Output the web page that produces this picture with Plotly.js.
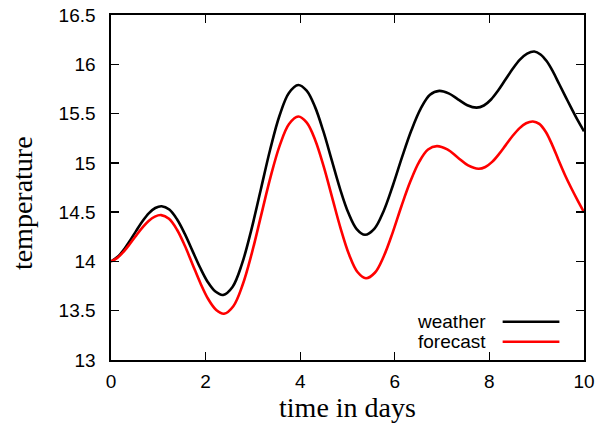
<!DOCTYPE html>
<html>
<head>
<meta charset="utf-8">
<script src="https://cdn.plot.ly/plotly-3.0.1.min.js"></script>
<style>html,body{margin:0;padding:0;background:#fff;}#chart{width:599px;height:425px;}</style>
</head>
<body>
<div id="chart"></div>
<script>
const seriesNames = ["weather", "forecast"];
const seriesColors = ["#000000", "#ff0000"];
const weatherDays = [0, 0.134, 0.268, 0.401, 0.535, 0.669, 0.803, 0.936, 1.07,
  1.233, 1.395, 1.558, 1.72, 1.883, 2.045, 2.208, 2.37,
  2.569, 2.767, 2.966, 3.165, 3.364, 3.562, 3.761, 3.96,
  4.136, 4.313, 4.489, 4.665, 4.841, 5.018, 5.194, 5.37,
  5.566, 5.763, 5.959, 6.155, 6.351, 6.548, 6.744, 6.94,
  7.138, 7.335, 7.533, 7.73,
  7.883, 8.035, 8.188, 8.34, 8.493, 8.645, 8.798, 8.95,
  9.081, 9.213, 9.344, 9.475, 9.606, 9.738, 9.869, 10];
const weather = [14.00, 14.044, 14.118, 14.211, 14.313, 14.41, 14.49, 14.542, 14.56,
  14.526, 14.428, 14.282, 14.11, 13.938, 13.792, 13.694, 13.66,
  13.741, 13.972, 14.318, 14.725, 15.133, 15.478, 15.709, 15.79,
  15.732, 15.568, 15.321, 15.03, 14.739, 14.493, 14.328, 14.27,
  14.33, 14.51, 14.77, 15.06, 15.33, 15.55, 15.69, 15.73,
  15.705, 15.645, 15.585, 15.56,
  15.582, 15.643, 15.736, 15.845, 15.954, 16.047, 16.108, 16.13,
  16.10, 16.03, 15.925, 15.80, 15.675, 15.55, 15.43, 15.32];
const forecastDays = [0, 0.133, 0.265, 0.398, 0.53, 0.663, 0.795, 0.928, 1.06,
  1.226, 1.393, 1.559, 1.725, 1.891, 2.058, 2.224, 2.39,
  2.586, 2.783, 2.979, 3.175, 3.371, 3.568, 3.764, 3.96,
  4.139, 4.318, 4.496, 4.675, 4.854, 5.033, 5.211, 5.39,
  5.578, 5.765, 5.953, 6.14, 6.328, 6.515, 6.703, 6.89,
  7.11, 7.33, 7.55, 7.77,
  7.914, 8.058, 8.201, 8.345, 8.489, 8.633, 8.776, 8.92,
  9.055, 9.19, 9.325, 9.46, 9.595, 9.73, 9.865, 10];
const forecast = [14.00, 14.036, 14.098, 14.177, 14.262, 14.343, 14.411, 14.455, 14.47,
  14.432, 14.324, 14.161, 13.97, 13.779, 13.616, 13.508, 13.47,
  13.546, 13.763, 14.087, 14.47, 14.853, 15.177, 15.394, 15.47,
  15.408, 15.23, 14.964, 14.65, 14.336, 14.07, 13.893, 13.83,
  13.885, 14.05, 14.29, 14.56, 14.81, 15.01, 15.135, 15.17,
  15.136, 15.055, 14.974, 14.94,
  14.958, 15.01, 15.088, 15.18, 15.272, 15.35, 15.402, 15.42,
  15.395, 15.315, 15.185, 15.03, 14.88, 14.745, 14.62, 14.50];
const xTicks = [0, 2, 4, 6, 8, 10];
const yTicks = [13, 13.5, 14, 14.5, 15, 15.5, 16, 16.5];
const xTitle = "time in days";
const yTitle = "temperature";

const traces = [
  {x: weatherDays, y: weather, name: seriesNames[0], mode: "lines", line: {color: seriesColors[0], width: 2.6, shape: "spline", smoothing: 1}},
  {x: forecastDays, y: forecast, name: seriesNames[1], mode: "lines", line: {color: seriesColors[1], width: 2.6, shape: "spline", smoothing: 1}}
];

const tickFont = {family: "Liberation Sans, Arial, sans-serif", size: 19, color: "#000"};
const titleFont = {family: "Liberation Serif, Times New Roman, serif", size: 28, color: "#000"};

// manual legend (text left of line sample, gnuplot style)
const anns = [];
const legendShapes = [];
seriesNames.forEach((n, i) => {
  const yp = 0.111 - i * 0.058;
  anns.push({xref: "paper", yref: "paper", x: 0.797, y: yp, xanchor: "right", yanchor: "middle", text: n, showarrow: false, font: tickFont});
  legendShapes.push({type: "line", xref: "paper", yref: "paper", x0: 0.828, x1: 0.948, y0: yp, y1: yp, line: {color: seriesColors[i], width: 2.6}});
});
anns.push({xref: "paper", yref: "paper", x: -0.188, y: 0.455, xanchor: "center", yanchor: "middle", textangle: -90, text: yTitle, showarrow: false, font: titleFont});

const layout = {
  width: 599, height: 425,
  margin: {l: 111, r: 15, t: 15, b: 65},
  paper_bgcolor: "#fff", plot_bgcolor: "#fff",
  showlegend: false,
  xaxis: {
    range: [0, 10], tickvals: xTicks, ticks: "inside", ticklen: 8, tickwidth: 1.3, tickcolor: "#000",
    showline: true, linecolor: "#000", linewidth: 1.6, mirror: "ticks", showgrid: false, zeroline: false,
    tickfont: tickFont, ticklabelstandoff: 4,
    title: {text: xTitle, font: titleFont, standoff: 3}
  },
  yaxis: {
    range: [13, 16.5], tickvals: yTicks, ticks: "inside", ticklen: 8, tickwidth: 1.3, tickcolor: "#000",
    showline: true, linecolor: "#000", linewidth: 1.6, mirror: "ticks", showgrid: false, zeroline: false,
    tickfont: tickFont, ticklabelstandoff: 10
  },
  annotations: anns,
  shapes: legendShapes
};

Plotly.newPlot("chart", traces, layout, {staticPlot: true, displayModeBar: false});
</script>
</body>
</html>
